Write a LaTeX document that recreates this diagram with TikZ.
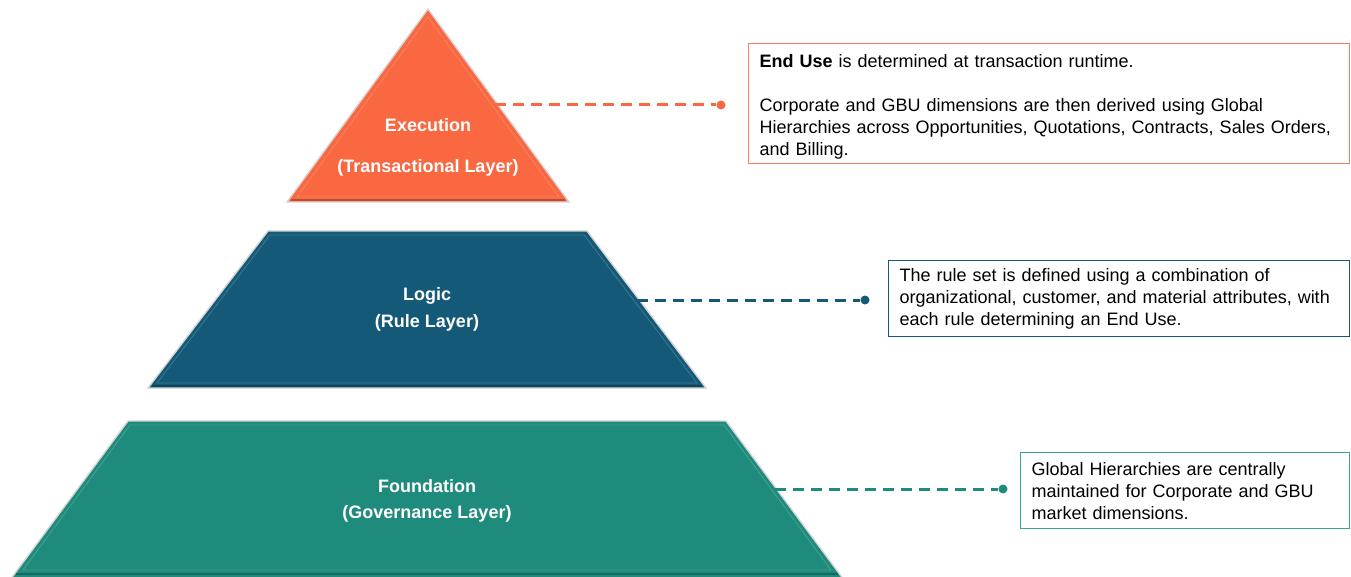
\documentclass[tikz,border=0pt]{standalone}
\usepackage{fontspec}
\setmainfont{Liberation Sans}
\usetikzlibrary{positioning}

\definecolor{execol}{HTML}{F96841}
\definecolor{logcol}{HTML}{145A78}
\definecolor{fndcol}{HTML}{1F8B7C}
\definecolor{fndline}{HTML}{3DA596}

\begin{document}
\begin{tikzpicture}[x=1pt,y=-1pt,
    layer/.style={fill=#1,draw=black!16,line width=1.4pt,line join=miter},
    bevel/.style={draw=#1!82!white,line width=0.8pt},
    base/.style={draw=#1!75!black,line width=2pt},
    lbl/.style={text=white,font=\fontsize{18}{22}\selectfont\bfseries},
    note/.style={draw=#1,line width=1.2pt,anchor=north west,align=left,
      inner xsep=11pt,inner ysep=0pt,font=\fontsize{18}{22}\selectfont},
    link/.style={draw=#1,line width=3pt,dash pattern=on 11pt off 7pt},
    dot/.style={circle,fill=#1,inner sep=0pt,minimum size=9pt}]

  \useasboundingbox (0,0) rectangle (1351,577);

  % pyramid
  \draw[layer=execol] (428,9) -- (569,202) -- (287,202) -- cycle;
  \draw[bevel=execol] (428,17) -- (559,197) -- (297,197) -- cycle;
  \draw[base=execol] (291,200) -- (565,200);

  \draw[layer=logcol] (268,231) -- (587,231) -- (706,388) -- (148,388) -- cycle;
  \draw[bevel=logcol] (270,235) -- (584,235) -- (697,383) -- (157,383) -- cycle;
  \draw[base=logcol] (152,386) -- (702,386);

  \draw[layer=fndcol] (128,421) -- (726,421) -- (844,580) -- (10,580) -- cycle;
  \draw[bevel=fndcol] (130,425) -- (724,425) -- (831,570) -- (23,570) -- cycle;
  \draw[base=fndcol] (16,574) -- (838,574);

  % layer names
  \node[lbl] (exe)  at (428,125) {Execution};
  \node[lbl] (exe2) at (428,168) {(Transactional Layer)};
  \node[lbl] (log)  at (427,296) {Logic};
  \node[lbl] (log2) at (427,323) {(Rule Layer)};
  \node[lbl] (fnd)  at (427,486) {Foundation};
  \node[lbl] (fnd2) at (427,514) {(Governance Layer)};

  % notes
  \node[note=execol!85!white,text width=579pt,minimum height=120pt] (exenote) at (748,43)
    {\rule{0pt}{20pt}\textbf{End Use} is determined at transaction runtime.\\[22pt]
     Corporate and GBU dimensions are then derived using Global\\
     Hierarchies across Opportunities, Quotations, Contracts, Sales Orders,\\
     and Billing.};
  \node[note=logcol,text width=439pt,minimum height=76pt] (lognote) at (888,260)
    {The rule set is defined using a combination of\\
     organizational, customer, and material attributes, with\\
     each rule determining an End Use.};
  \node[note=fndline,text width=307pt,minimum height=76pt] (fndnote) at (1020,452)
    {Global Hierarchies are centrally\\
     maintained for Corporate and GBU\\
     market dimensions.};

  % connectors
  \coordinate (exe-p) at (495,105);
  \coordinate (log-p) at (637,300);
  \coordinate (fnd-p) at (775,489);
  \node[dot=execol] (exe-d) at (721,105) {};
  \node[dot=logcol] (log-d) at (865,300) {};
  \node[dot=fndcol] (fnd-d) at (1003,489) {};

  \path (exe-p) edge[link=execol] (exe-d);
  \path (log-p) edge[link=logcol] (log-d);
  \path (fnd-p) edge[link=fndcol] (fnd-d);

\end{tikzpicture}
\end{document}
